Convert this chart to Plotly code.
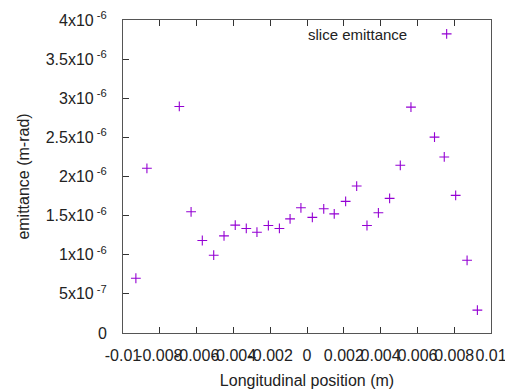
import plotly.graph_objects as go

z = [-0.0093, -0.0087, -0.00694, -0.00630, -0.00569, -0.00507, -0.00451, -0.00390,
     -0.00330, -0.00272, -0.00210, -0.00150, -0.00092, -0.00033, 0.00029, 0.00091,
     0.00148, 0.00210, 0.00270, 0.00326, 0.00388, 0.00449, 0.00507, 0.00565,
     0.00693, 0.00746, 0.00808, 0.00870, 0.00926]
emit = [0.70e-6, 2.105e-6, 2.895e-6, 1.549e-6, 1.182e-6, 0.994e-6, 1.241e-6, 1.378e-6,
        1.336e-6, 1.288e-6, 1.374e-6, 1.336e-6, 1.459e-6, 1.600e-6, 1.477e-6, 1.587e-6,
        1.523e-6, 1.682e-6, 1.878e-6, 1.374e-6, 1.536e-6, 1.720e-6, 2.143e-6, 2.887e-6,
        2.503e-6, 2.250e-6, 1.759e-6, 0.929e-6, 0.292e-6]

xtickvals = [-0.01, -0.008, -0.006, -0.004, -0.002, 0, 0.002, 0.004, 0.006, 0.008, 0.01]
xticktext = ["-0.01", "-0.008", "-0.006", "-0.004", "-0.002", "0", "0.002", "0.004", "0.006", "0.008", "0.01"]
ytickvals = [0, 0.5e-6, 1e-6, 1.5e-6, 2e-6, 2.5e-6, 3e-6, 3.5e-6, 4e-6]
yticktext = ["0", "5x10<sup> -7</sup>", "1x10<sup> -6</sup>", "1.5x10<sup> -6</sup>", "2x10<sup> -6</sup>",
             "2.5x10<sup> -6</sup>", "3x10<sup> -6</sup>", "3.5x10<sup> -6</sup>", "4x10<sup> -6</sup>"]

color = "#9400D3"
marker = dict(symbol="cross-thin", size=7, color=color, line=dict(color=color, width=1.1))

fig = go.Figure()
fig.add_trace(go.Scatter(x=z, y=emit, mode="markers", name="slice emittance", marker=marker))

fam = "Liberation Sans, Arial, sans-serif"
font = dict(family=fam, size=16, color="#222222")
lfont = dict(family=fam, size=15, color="#222222")
fig.update_layout(
    width=505, height=391,
    margin=dict(l=123, r=14, t=20, b=58),
    plot_bgcolor="white", paper_bgcolor="white",
    font=font, showlegend=False,
    xaxis=dict(range=[-0.01, 0.01], tickvals=xtickvals, ticktext=xticktext, tickangle=0,
               ticks="inside", ticklen=6, tickcolor="#333", showgrid=False, zeroline=False,
               showline=True, linecolor="#555", linewidth=1, mirror="ticks",
               ticklabeloverflow="allow", ticklabelstandoff=8, automargin=False,
               title=dict(text="Longitudinal position (m)", standoff=11, font=font),
               tickfont=font),
    yaxis=dict(range=[0, 4e-6], tickvals=ytickvals, ticktext=yticktext,
               ticks="inside", ticklen=6, tickcolor="#333", showgrid=False, zeroline=False,
               showline=True, linecolor="#555", linewidth=1, mirror=True,
               ticklabelstandoff=12, automargin=False,
               title=dict(text="emittance (m-rad)", standoff=12, font=font),
               tickfont=font),
)
# legend entry (gnuplot-style key)
fig.add_annotation(x=0.778, y=0.955, xref="paper", yref="paper", text="slice emittance",
                   showarrow=False, xanchor="right", yanchor="middle", font=lfont)
fig.add_trace(go.Scatter(x=[0.00759], y=[3.823e-6], mode="markers", showlegend=False,
                         hoverinfo="skip", marker=marker))
fig.write_html("out.html")
